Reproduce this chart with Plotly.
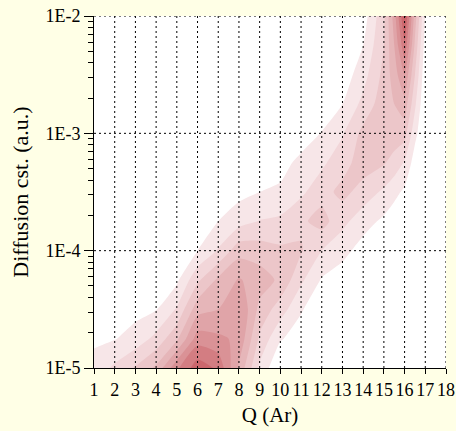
import plotly.graph_objects as go

# ---- data ----
q_values = [1, 2, 3, 4, 5, 6, 7, 8, 9, 10, 11, 12, 13, 14, 15, 15.5, 16, 16.5, 17, 18]
diff_values = [1e-5, 1.778e-5, 3.162e-5, 5.623e-5, 1e-4, 1.778e-4, 3.162e-4,
               5.623e-4, 1e-3, 1.778e-3, 3.162e-3, 5.623e-3, 1e-2]

# estimated density, one list per Q column (from 1E-5 upwards)
dens_q1 = [1.4, 0.8, 0.4, 0.2, 0, 0, 0, 0, 0, 0, 0, 0, 0]
dens_q2 = [2.2, 0.95, 0.5, 0.2, 0.05, 0, 0, 0, 0, 0, 0, 0, 0]
dens_q3 = [3.1, 1.4, 0.7, 0.3, 0.1, 0, 0, 0, 0, 0, 0, 0, 0]
dens_q4 = [4.2, 2.3, 0.95, 0.4, 0.1, 0, 0, 0, 0, 0, 0, 0, 0]
dens_q5 = [6.8, 3.8, 2.1, 0.8, 0.3, 0.1, 0, 0, 0, 0, 0, 0, 0]
dens_q6 = [8.6, 6.5, 4.6, 2.8, 1.0, 0.5, 0.2, 0, 0, 0, 0, 0, 0]
dens_q7 = [7.8, 6.2, 5.0, 4.2, 2.1, 1.0, 0.5, 0.2, 0, 0, 0, 0, 0]
dens_q8 = [4.8, 5.8, 6.0, 5.1, 3.6, 1.6, 0.7, 0.3, 0.1, 0, 0, 0, 0]
dens_q9 = [1.8, 2.8, 3.7, 4.5, 3.5, 2.05, 1.0, 0.4, 0.1, 0, 0, 0, 0]
dens_q10 = [0, 1.1, 2.5, 3.8, 3.2, 2.2, 1.2, 0.6, 0.2, 0, 0, 0, 0]
dens_q11 = [0, 0.5, 1.1, 2.2, 3.1, 2.8, 1.8, 1.3, 0.4, 0.1, 0, 0, 0]
dens_q12 = [0, 0, 0.3, 0.9, 2.0, 3.4, 2.6, 1.8, 1.05, 0.4, 0.1, 0, 0]
dens_q13 = [0, 0, 0, 0.5, 1.3, 2.3, 3.3, 2.6, 1.9, 1.0, 0.4, 0.1, 0]
dens_q14 = [0, 0, 0, 0, 0.6, 1.4, 2.6, 3.5, 3.3, 2.3, 1.6, 1.0, 0.5]
dens_q15 = [0, 0, 0, 0, 0, 0.8, 1.8, 3.1, 3.7, 3.6, 3.3, 3.0, 2.8]
dens_q15_5 = [0, 0, 0, 0, 0, 0.4, 1.3, 2.6, 3.6, 4.0, 4.5, 5.0, 5.5]
dens_q16 = [0, 0, 0, 0, 0, 0.1, 0.8, 1.9, 3.4, 4.6, 6.0, 7.8, 9.2]
dens_q16_5 = [0, 0, 0, 0, 0, 0, 0, 0.5, 1.3, 2.2, 3.0, 3.8, 4.5]
dens_q17 = [0, 0, 0, 0, 0, 0, 0, 0, 0, 0, 0.2, 0.5, 0.9]
dens_q18 = [0, 0, 0, 0, 0, 0, 0, 0, 0, 0, 0, 0, 0]

columns = [dens_q1, dens_q2, dens_q3, dens_q4, dens_q5, dens_q6, dens_q7, dens_q8,
           dens_q9, dens_q10, dens_q11, dens_q12, dens_q13, dens_q14, dens_q15,
           dens_q15_5, dens_q16, dens_q16_5, dens_q17, dens_q18]

x_ticks = list(range(1, 19))
y_tickvals = [1e-5, 1e-4, 1e-3, 1e-2]
y_ticktext = ["1E-5", "1E-4", "1E-3", "1E-2"]
y_minor = [m * d for d in [1e-5, 1e-4, 1e-3] for m in range(2, 10)]

# build grid z[row=y][col=x]
z = [[columns[j][i] for j in range(len(q_values))] for i in range(len(diff_values))]

level_colors = ["#ffffff", "#f7e6e8", "#f2d6d9", "#ecc6c9", "#e6b6b9",
                "#e0a4a8", "#da9296", "#d37d82", "#cc676d", "#c24b53"]
colorscale = [[k / 9, c] for k, c in enumerate(level_colors)]

fig = go.Figure()
fig.add_trace(go.Contour(
    x=q_values, y=diff_values, z=z,
    colorscale=colorscale, showscale=False,
    autocontour=False,
    contours=dict(start=1, end=9, size=1, coloring="fill", showlines=False),
    line=dict(width=0, smoothing=0.6),
    hoverinfo="skip",
))

font_family = "Liberation Serif, Times New Roman, serif"

# dotted grid drawn above the filled contours
shapes = []
for q in x_ticks[1:]:
    shapes.append(dict(type="line", xref="x", yref="paper", x0=q, x1=q, y0=0, y1=1,
                       line=dict(color="black", width=1, dash="2px,3px"), layer="above"))
for yv in y_tickvals[1:]:
    shapes.append(dict(type="line", xref="paper", yref="y", x0=0, x1=1, y0=yv, y1=yv,
                       line=dict(color="black", width=1, dash="2px,3px"), layer="above"))

fig.update_layout(
    width=456, height=431,
    margin=dict(l=94, r=10, t=16, b=63, autoexpand=False),
    paper_bgcolor="#ffffe6",
    plot_bgcolor="#ffffff",
    font=dict(family=font_family, size=18, color="black"),
    showlegend=False,
    shapes=shapes,
    xaxis=dict(
        range=[1, 18], tickmode="array", tickvals=x_ticks, automargin=False,
        ticks="outside", ticklen=5, tickcolor="black", tickwidth=1,
        showline=True, linecolor="black", linewidth=1, showgrid=False, zeroline=False,
        title=dict(text="Q (Ar)", font=dict(size=21), standoff=8),
        tickfont=dict(size=18), layer="above traces",
    ),
    yaxis=dict(
        type="log", range=[-5, -2], tickmode="array", tickvals=y_tickvals, ticktext=y_ticktext,
        automargin=False,
        ticks="outside", ticklen=9, tickcolor="black", tickwidth=1,
        minor=dict(tickmode="array", tickvals=y_minor, ticks="outside", ticklen=5,
                   tickcolor="black", showgrid=False),
        showline=True, linecolor="black", linewidth=1, showgrid=False, zeroline=False,
        title=dict(text="Diffusion cst. (a.u.)", font=dict(size=22), standoff=10),
        tickfont=dict(size=18), layer="above traces",
    ),
)

fig.write_html("out.html",
               config={"displayModeBar": False},
               post_script="document.body.style.margin='0';document.body.style.background='#ffffe6';")
